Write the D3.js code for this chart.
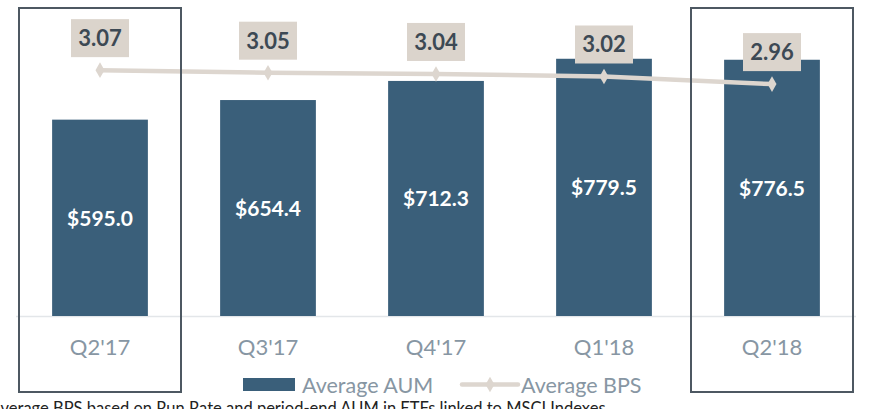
<!DOCTYPE html>
<html>
<head>
<meta charset="utf-8">
<script src="https://cdn.jsdelivr.net/npm/d3@7"></script>
<style>
  body { margin: 0; background: #fff; }
  svg { display: block; font-family: Lato, "Open Sans", sans-serif; }
</style>
</head>
<body>
<svg id="chart" width="870" height="409"></svg>
<script>
// chart data
const quarters = ["Q2'17", "Q3'17", "Q4'17", "Q1'18", "Q2'18"];
const aumValues = [595.0, 654.4, 712.3, 779.5, 776.5];
const bpsValues = [3.07, 3.05, 3.04, 3.02, 2.96];
const highlighted = ["Q2'17", "Q2'18"];
const legendLabels = ["Average AUM", "Average BPS"];
const footnote = "Average BPS based on Run Rate and period-end AUM in ETFs linked to MSCI Indexes";

const barColor = "#3a5f7a";
const lineColor = "#ddd6cf";
const baseline = 316;

const svg = d3.select("#chart");

// scales
const x = d3.scaleBand()
    .domain(quarters)
    .range([16, 856])
    .paddingInner(0.43)
    .paddingOuter(0.215);

const y = d3.scaleLinear()
    .domain([0, 900])
    .range([baseline, 19]);

const y2 = d3.scaleLinear()
    .domain([1.133, 3.473])
    .range([baseline, 19]);

// baseline
svg.append("line")
    .attr("x1", 16).attr("x2", 856)
    .attr("y1", baseline + 0.5).attr("y2", baseline + 0.5)
    .attr("stroke", "#e3e6e9")
    .attr("stroke-width", 1.5);

// bars
svg.selectAll("rect.bar")
    .data(aumValues)
    .enter().append("rect")
    .attr("class", "bar")
    .attr("x", (d, i) => x(quarters[i]))
    .attr("width", x.bandwidth())
    .attr("y", d => y(d))
    .attr("height", d => baseline - y(d))
    .attr("fill", barColor);

svg.selectAll("text.barlabel")
    .data(aumValues)
    .enter().append("text")
    .attr("class", "barlabel")
    .attr("x", (d, i) => x(quarters[i]) + x.bandwidth() / 2)
    .attr("y", d => (y(d) + baseline) / 2 + 8)
    .attr("text-anchor", "middle")
    .attr("fill", "#fff")
    .attr("font-weight", "bold")
    .attr("font-size", 21)
    .text(d => "$" + d.toFixed(1));

// category labels
svg.selectAll("text.cat")
    .data(quarters)
    .enter().append("text")
    .attr("class", "cat")
    .attr("x", d => x(d) + x.bandwidth() / 2)
    .attr("y", 355)
    .attr("text-anchor", "middle")
    .attr("fill", "#8796a3")
    .attr("font-size", 22)
    .text(d => d);

// bps line
const cx = (d, i) => x(quarters[i]) + x.bandwidth() / 2;
const line = d3.line()
    .x(cx)
    .y(d => y2(d));

svg.append("path")
    .datum(bpsValues)
    .attr("d", line)
    .attr("fill", "none")
    .attr("stroke", lineColor)
    .attr("stroke-width", 4.5);

const diamond = d3.symbol().type(d3.symbolDiamond).size(70);
svg.selectAll("path.marker")
    .data(bpsValues)
    .enter().append("path")
    .attr("class", "marker")
    .attr("d", diamond)
    .attr("transform", (d, i) => `translate(${cx(d, i)},${y2(d)})`)
    .attr("fill", lineColor);

// bps labels
const lbl = svg.selectAll("g.bpslabel")
    .data(bpsValues)
    .enter().append("g")
    .attr("class", "bpslabel")
    .attr("transform", (d, i) => `translate(${cx(d, i)},${y2(d) - 32})`);

lbl.append("rect")
    .attr("x", -29).attr("y", -19)
    .attr("width", 58).attr("height", 38)
    .attr("fill", "#dbd4cc");

lbl.append("text")
    .attr("text-anchor", "middle")
    .attr("y", 8)
    .attr("fill", "#3d4954")
    .attr("font-weight", "bold")
    .attr("font-size", 22)
    .text(d => d.toFixed(2));

// highlight boxes
svg.selectAll("rect.hl")
    .data(highlighted)
    .enter().append("rect")
    .attr("class", "hl")
    .attr("x", d => x(d) + x.bandwidth() / 2 - 81)
    .attr("y", 8)
    .attr("width", 162)
    .attr("height", 384)
    .attr("fill", "none")
    .attr("stroke", "#4d5862")
    .attr("stroke-width", 2);

// legend
const legend = svg.append("g");
legend.append("rect")
    .attr("x", 243).attr("y", 378)
    .attr("width", 52).attr("height", 13)
    .attr("fill", barColor);
legend.append("text")
    .attr("x", 302).attr("y", 393)
    .attr("fill", "#8796a3")
    .attr("font-size", 21.5)
    .text(legendLabels[0]);
legend.append("line")
    .attr("x1", 462).attr("x2", 518)
    .attr("y1", 384.5).attr("y2", 384.5)
    .attr("stroke", lineColor)
    .attr("stroke-width", 4.5)
    .attr("stroke-linecap", "round");
legend.append("path")
    .attr("d", diamond)
    .attr("transform", "translate(490,384.5)")
    .attr("fill", lineColor);
legend.append("text")
    .attr("x", 521).attr("y", 393)
    .attr("fill", "#8796a3")
    .attr("font-size", 21.5)
    .text(legendLabels[1]);

// footnote, cut off at the edges like the source
svg.append("text")
    .attr("x", -10)
    .attr("y", 414)
    .attr("fill", "#222")
    .attr("font-size", 16.5)
    .text(footnote);
</script>
</body>
</html>
